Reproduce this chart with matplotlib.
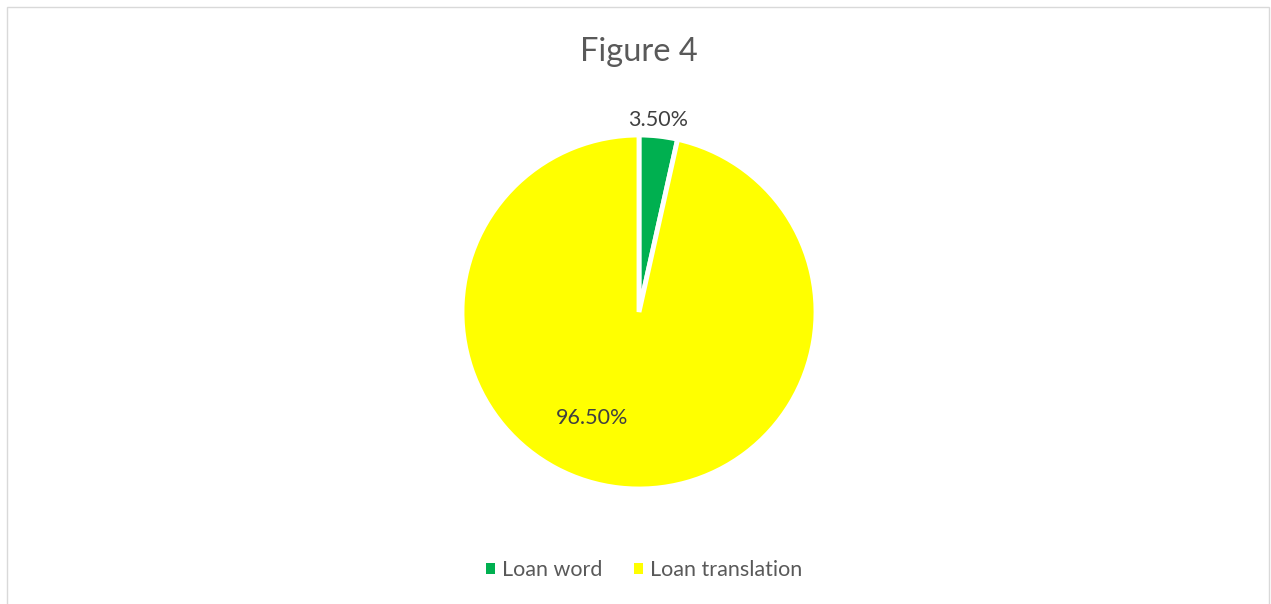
import matplotlib
matplotlib.use("Agg")
import matplotlib.pyplot as plt
from matplotlib.patches import Rectangle, Patch

categories = ["Loan word", "Loan translation"]
values = [3.5, 96.5]
colors = ["#00b050", "#ffff00"]
title = "Figure 4"

plt.rcParams['font.family'] = ['Lato', 'DejaVu Sans']

W, H = 1271, 604
fig = plt.figure(figsize=(W/100, H/100), dpi=100)
fig.patch.set_facecolor("white")

# frame
fig.add_artist(Rectangle((7/W, -0.05), (1269-7)/W, (H-7)/H + 0.05,
                         transform=fig.transFigure, fill=False,
                         edgecolor="#d9d9d9", linewidth=1.0))

cx, cy, r = 639, 312, 177
ax = fig.add_axes([(cx-r)/W, (H-cy-r)/H, 2*r/W, 2*r/H])
wedges, _ = ax.pie(values, colors=colors, startangle=90, counterclock=False,
                   radius=1.0,
                   wedgeprops=dict(edgecolor="white", linewidth=3.5))
ax.set_xlim(-1, 1)
ax.set_ylim(-1, 1)
ax.set_aspect("equal")
ax.axis("off")

# data labels
label_pos = [(0.11, 1.085), (-0.265, -0.60)]
for v, (x, y) in zip(values, label_pos):
    ax.text(x, y, f"{v:.2f}%", ha="center", va="center",
            fontsize=15.5, color="#404040")

fig.text(cx/W, 1 - 52/H, title, ha="center", va="center",
         fontsize=23.5, color="#595959")

handles = [Patch(facecolor=c, edgecolor="none") for c in colors]
leg = fig.legend(handles, categories, loc="center", bbox_to_anchor=(644/W, 1 - 570/H),
                 ncol=2, frameon=False, fontsize=15.5, handlelength=0.42,
                 handleheight=0.42, handletextpad=0.3, columnspacing=1.5)
for t in leg.get_texts():
    t.set_color("#595959")

fig.savefig("out.png", dpi=100)
